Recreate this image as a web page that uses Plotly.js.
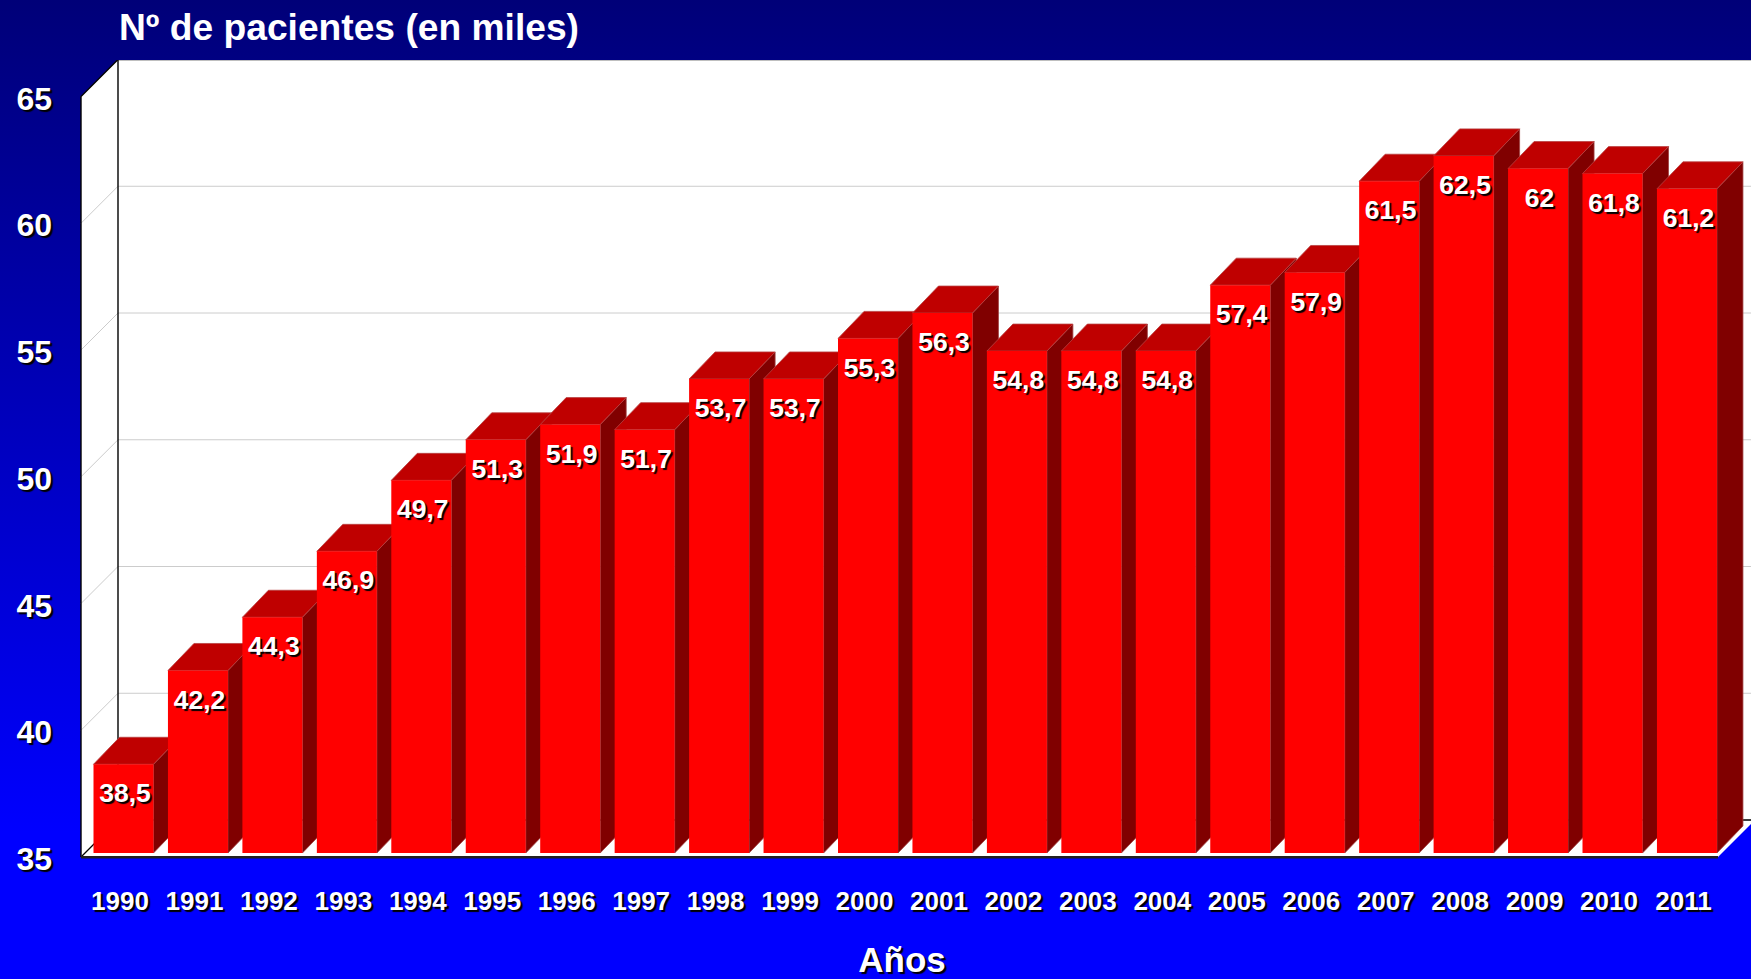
<!DOCTYPE html>
<html><head><meta charset="utf-8">
<script src="https://cdn.plot.ly/plotly-3.0.1.min.js"></script>
<style>
html,body{margin:0;padding:0;width:1751px;height:979px;overflow:hidden}
#chart{width:1751px;height:979px;background:linear-gradient(to bottom,#000078 0%,#0000ff 85%,#0000ff 100%)}
</style></head><body><div id="chart"></div>
<script>
const years=[1990,1991,1992,1993,1994,1995,1996,1997,1998,1999,2000,2001,2002,2003,2004,2005,2006,2007,2008,2009,2010,2011];
const values=[38.5,42.2,44.3,46.9,49.7,51.3,51.9,51.7,53.7,53.7,55.3,56.3,54.8,54.8,54.8,57.4,57.9,61.5,62.5,62,61.8,61.2];
const labels=["38,5","42,2","44,3","46,9","49,7","51,3","51,9","51,7","53,7","53,7","55,3","56,3","54,8","54,8","54,8","57,4","57,9","61,5","62,5","62","61,8","61,2"];
const yTicks=[35,40,45,50,55,60,65];

// pixel geometry helpers: convert to data units
const W=1751,H=979,mL=53,mT=60,mB=120;
const pxX=74.45, pxY=25.35;
const x0=1990+(mL-120)/pxX, x1=1990+(W-120)/pxX;
const y0=35-2/pxY, y1=35+(H-mB-mT-2)/pxY;
const floorY=35;
const wallDx=37/pxX, wallDy=37/pxY;
const floorLeft=1990+(81-120)/pxX, floorRight=1990+(1718-120)/pxX;
const barW=60/pxX, barShift=3.5/pxX, depthX=26/pxX, depthY=27/pxY, lift=4/pxY;
const labelDrop=31.5/pxY, labelShift=1.5/pxX;
const sans='"Liberation Sans",Arial,sans-serif';

const traces=[];
const poly=(xs,ys,fill,line,z,lw)=>traces.push({type:'scatter',mode:'lines',x:xs,y:ys,fill:'toself',fillcolor:fill,
  line:{color:line,width:lw===undefined?1:lw},hoverinfo:'skip',showlegend:false,zorder:z});
const seg=(xs,ys,color,w,z)=>traces.push({type:'scatter',mode:'lines',x:xs,y:ys,line:{color:color,width:w},hoverinfo:'skip',showlegend:false,zorder:z,cliponaxis:false});

// walls and floor
const backL=floorLeft+wallDx;
poly([backL,x1,x1,backL,backL],[floorY+wallDy,floorY+wallDy,y1,y1,floorY+wallDy],'#ffffff','rgba(0,0,0,0)',0,0);
poly([floorLeft,backL,backL,floorLeft,floorLeft],[floorY,floorY+wallDy,65+wallDy,65,floorY],'#ffffff','rgba(0,0,0,0)',0,0);
poly([floorLeft,floorRight,floorRight+wallDx,backL,floorLeft],[floorY,floorY,floorY+wallDy,floorY+wallDy,floorY],'#ffffff','rgba(0,0,0,0)',0,0);
// gridlines
yTicks.forEach(v=>{ if(v>35&&v<65){
  seg([floorLeft,backL,x1],[v,v+wallDy,v+wallDy],'#cccccc',1,1);
}});
// frame
seg([floorLeft,floorLeft,backL,x1],[floorY,65,65+wallDy,65+wallDy],'#000000',1.4,2);
seg([backL,backL,x1],[65+wallDy,floorY+wallDy,floorY+wallDy],'#000000',1.4,2);
seg([floorLeft,backL],[floorY,floorY+wallDy],'#000000',1.2,2);
seg([floorLeft,floorRight],[floorY-0.012,floorY-0.012],'#202020',2.6,2);

// bars
years.forEach((yr,i)=>{
  const v=values[i]+lift, c=yr+barShift, l=c-barW/2, r=c+barW/2, b=floorY+lift, z=10+2*i;
  poly([r,r+depthX,r+depthX,r,r],[b,b+depthY,v+depthY,v,b],'#800000','#a04040',z,0.8);
  poly([l,r,r+depthX,l+depthX,l],[v,v,v+depthY,v+depthY,v],'#bf0000','#b84040',z,0.8);
  traces.push({type:'bar',x:[c],y:[values[i]-floorY],base:[b],width:[barW],marker:{color:'#ff0000',line:{width:0}},
    hoverinfo:'skip',showlegend:false,zorder:z+1});
});
// data labels
traces.push({type:'scatter',mode:'text',x:years.map(y=>y+barShift+labelShift),y:values.map(v=>v+lift-labelDrop),text:labels,
  textposition:'middle center',textfont:{family:sans,size:26.5,weight:700,color:'#ffffff',shadow:'2px 2px 1px #000000'},
  hoverinfo:'skip',showlegend:false,zorder:100,cliponaxis:false});

const layout={
  width:W,height:H,
  margin:{l:mL,r:0,t:mT,b:mB,pad:0},
  paper_bgcolor:'rgba(0,0,0,0)',plot_bgcolor:'rgba(0,0,0,0)',
  barmode:'overlay',showlegend:false,
  title:{text:'Nº de pacientes (en miles)',x:119/W,xanchor:'left',y:1-27/H,yanchor:'middle',
    font:{family:sans,size:37.2,weight:700,color:'#ffffff'}},
  xaxis:{range:[x0,x1],tickmode:'array',tickvals:years,ticktext:years.map(String),showgrid:false,zeroline:false,showline:false,
    ticks:'outside',ticklen:19,tickcolor:'rgba(0,0,0,0)',tickangle:0,
    tickfont:{family:sans,size:26,weight:700,color:'#ffffff',shadow:'2px 2px 1px #000000'},
    title:{text:'Años',standoff:42,font:{family:sans,size:35,weight:700,color:'#ffffff',shadow:'2px 2px 1px #000000'}}},
  yaxis:{range:[y0,y1],tickmode:'array',tickvals:yTicks,ticktext:yTicks.map(String),showgrid:false,zeroline:false,showline:false,
    ticks:'',ticklabelshift:2,
    tickfont:{family:sans,size:32,weight:700,color:'#ffffff',shadow:'2px 2px 1px #000000'}}
};
Plotly.newPlot('chart',traces,layout,{displayModeBar:false,staticPlot:true});
</script></body></html>
